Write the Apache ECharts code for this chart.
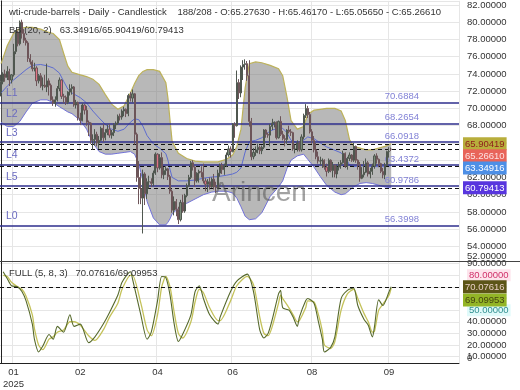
<!DOCTYPE html>
<html><head><meta charset="utf-8">
<script src="https://cdn.jsdelivr.net/npm/echarts@6/dist/echarts.min.js"></script>
<style>html,body{margin:0;padding:0;background:#fff}#c{width:520px;height:390px}</style>
</head><body><div id="c"></div>
<script>
// ---- DATA ----
// candles: [open, close, low, high]
const ohlc = [
[71.9,73.1,71.4,73.9],[73.1,74.0,72.8,74.2],[74.0,73.6,73.1,74.5],[73.6,74.3,73.3,74.9],[74.3,73.3,72.6,74.6],[73.3,73.9,72.9,74.0],[73.9,76.6,73.7,77.5],[76.6,78.8,76.3,79.1],[78.8,77.5,77.2,79.0],[77.5,80.0,77.3,80.2],
[80.0,78.7,78.1,80.3],[78.7,77.9,77.6,79.2],[77.9,77.6,77.3,78.2],[77.6,75.8,75.4,77.8],[75.8,75.4,75.1,76.3],[75.4,74.6,74.3,75.6],[74.6,74.7,74.3,75.3],[74.7,73.2,72.6,74.9],[73.2,73.8,72.9,74.0],[73.8,72.6,72.4,74.1],
[72.6,72.7,72.1,73.6],[72.7,72.5,72.4,73.9],[72.5,73.2,71.9,75.2],[73.2,72.7,71.5,73.5],[72.7,71.0,70.9,72.9],[71.0,70.6,70.3,71.4],[70.6,71.0,70.2,71.4],[71.0,72.3,70.8,72.6],[72.3,73.3,72.0,73.6],[73.3,71.4,71.1,73.4],
[71.4,71.3,70.6,71.7],[71.3,70.7,70.4,71.5],[70.7,71.9,70.5,72.0],[71.9,72.3,71.5,72.8],[72.3,72.5,71.6,72.8],[72.5,70.4,70.2,72.6],[70.4,70.7,70.0,71.0],[70.7,68.9,68.6,70.8],[68.9,68.6,68.1,69.5],[68.6,70.4,68.5,70.6],
[70.4,69.8,69.3,70.5],[69.8,68.4,68.0,70.3],[68.4,68.3,66.8,68.6],[68.3,66.3,65.9,68.4],[66.3,66.4,65.2,67.0],[66.4,67.0,65.7,67.6],[67.0,66.0,65.6,67.3],[66.0,66.3,65.3,66.8],[66.3,67.7,66.2,67.9],[67.7,66.6,66.1,68.2],
[66.6,67.2,66.3,67.6],[67.2,67.6,66.9,68.1],[67.6,66.9,66.6,68.2],[66.9,67.2,66.5,67.5],[67.2,68.1,66.8,68.3],[68.1,68.3,67.6,68.5],[68.3,69.1,68.1,69.3],[69.1,69.0,68.6,69.4],[69.0,69.7,68.7,69.9],[69.7,69.9,69.1,70.2],
[69.9,69.4,69.0,70.0],[69.4,71.5,69.1,71.7],[71.5,71.2,70.8,71.9],[71.2,71.7,70.7,72.2],[71.7,67.0,65.8,71.8],[67.0,62.0,61.5,67.2],[62.0,60.7,58.9,63.9],[60.7,59.6,58.9,62.5],[59.6,62.4,55.5,62.9],[62.4,60.1,58.8,62.6],
[60.1,61.5,59.5,61.9],[61.5,61.5,60.7,62.2],[61.5,61.3,60.9,61.9],[61.3,62.5,61.0,62.8],[62.5,64.7,62.3,64.9],[64.7,63.1,62.6,64.8],[63.1,64.3,62.9,64.7],[64.3,62.3,61.9,64.9],[62.3,62.8,61.8,63.2],[62.8,63.0,62.3,63.3],
[63.0,62.1,61.7,63.1],[62.1,60.4,60.1,62.3],[60.4,58.2,57.9,60.6],[58.2,59.2,57.6,59.8],[59.2,58.3,57.5,59.5],[58.3,57.1,56.6,58.6],[57.1,59.1,56.9,59.4],[59.1,58.1,57.9,60.0],[58.1,59.9,57.9,60.1],[59.9,61.0,59.7,61.3],
[61.0,62.0,60.9,62.3],[62.0,63.7,61.8,63.9],[63.7,63.2,62.8,64.0],[63.2,61.6,60.9,63.3],[61.6,62.5,61.4,62.6],[62.5,62.7,61.4,62.9],[62.7,62.6,62.0,63.3],[62.6,61.6,61.3,63.6],[61.6,61.2,60.4,61.9],[61.2,61.5,60.3,61.8],
[61.5,60.9,60.6,62.0],[60.9,61.8,60.8,62.0],[61.8,60.9,60.6,62.4],[60.9,60.8,60.2,61.5],[60.8,62.5,60.7,62.9],[62.5,63.4,62.1,63.6],[63.4,62.9,62.4,63.7],[62.9,63.4,62.3,63.6],[63.4,64.6,63.2,64.9],[64.6,65.3,64.4,65.7],
[65.3,65.0,64.3,65.6],[65.0,68.2,64.9,68.3],[68.2,68.0,66.6,68.4],[68.0,73.0,67.9,74.4],[73.0,71.8,71.1,73.4],[71.8,74.8,71.3,75.0],[74.8,75.1,73.3,75.6],[75.1,75.2,74.5,75.7],[75.2,73.8,73.2,75.5],[73.8,68.5,67.9,75.6],
[68.5,64.4,64.0,68.9],[64.4,64.9,64.1,65.4],[64.9,65.2,64.5,65.6],[65.2,65.5,64.8,65.9],[65.5,65.1,64.7,65.7],[65.1,65.5,64.7,65.7],[65.5,67.5,65.3,67.6],[67.5,67.0,66.6,67.6],[67.0,66.9,66.6,67.2],[66.9,67.9,65.6,68.2],
[67.9,68.3,67.5,68.8],[68.3,68.4,67.8,68.5],[68.4,66.6,66.4,68.5],[66.6,68.5,66.5,68.6],[68.5,67.0,66.8,69.1],[67.0,66.5,66.3,67.4],[66.5,66.4,65.6,66.9],[66.4,67.5,65.9,67.6],[67.5,67.3,67.1,68.0],[67.3,67.2,66.8,67.6],
[67.2,65.3,65.1,67.3],[65.3,65.3,64.8,65.8],[65.3,66.0,65.0,66.3],[66.0,65.2,65.0,66.2],[65.2,66.7,65.0,67.0],[66.7,69.2,66.4,69.4],[69.2,70.0,68.9,70.5],[70.0,69.3,68.9,70.3],[69.3,67.3,67.1,69.6],[67.3,66.3,65.9,67.6],
[66.3,65.2,64.9,66.8],[65.2,64.4,64.1,66.0],[64.4,63.9,63.6,65.0],[63.9,63.9,63.4,64.4],[63.9,64.0,63.1,64.2],[64.0,63.2,62.9,64.1],[63.2,62.7,62.1,63.6],[62.7,64.0,62.5,64.2],[64.0,62.8,62.6,64.1],[62.8,63.4,62.0,63.8],
[63.4,62.4,62.0,63.5],[62.4,63.2,61.9,63.5],[63.2,63.5,62.8,63.8],[63.5,63.7,63.0,64.0],[63.7,64.8,63.6,65.1],[64.8,63.3,63.1,64.9],[63.3,64.2,62.9,64.4],[64.2,64.6,63.9,64.9],[64.6,64.0,63.8,64.7],[64.0,65.6,63.8,66.0],
[65.6,64.0,63.7,65.7],[64.0,63.5,62.9,64.1],[63.5,61.9,61.5,63.8],[61.9,62.3,61.8,63.2],[62.3,62.6,62.0,63.9],[62.6,63.7,62.5,64.2],[63.7,62.4,62.1,63.9],[62.4,62.7,61.9,63.1],[62.7,63.3,62.3,63.6],[63.3,64.5,63.0,64.7],
[64.5,64.1,63.6,64.8],[64.1,63.6,63.2,64.2],[63.6,62.7,62.5,63.7],[62.7,62.3,61.9,63.1],[62.3,63.4,61.8,63.7],[63.4,65.0,63.3,65.1],[65.0,65.0,64.3,65.5],[65.2763,65.2661,65.0565,65.4617]
];
const slotCount = 220;

// Bollinger bands (20, 2), read at these candle indices
const bbIdx    = [0,3,6,9,12,15,19,22,25,28,30,32,34,38,41,44,47,50,53,56,59,62,64,66,68,70,73,76,79,80,81,82,85,89,93,97,101,104,108,111,113,115,117,119,122,125,129,133,135,137,139,142,145,147,150,153,156,160,163,165,167,169,172,175,178,181,184,187];
const bbUpper  = [75.2,77.3,78.7,79.3,79.4,79.4,79.2,78.9,78.7,78.0,76.4,74.9,74.2,73.9,73.7,73.4,72.8,71.6,70.5,69.9,70.3,71.8,72.9,73.8,74.3,74.5,74.5,74.3,73.0,71.2,68.6,66.2,64.8,64.2,63.9,63.8,63.8,63.8,64.1,64.6,65.6,67.6,72.4,75.2,75.4,75.3,75.0,74.6,73.8,71.4,68.6,67.6,67.9,69.3,69.8,69.9,70.0,70.0,69.7,68.6,66.4,65.6,65.4,65.2,65.2,65.4,65.6,65.90419];
const bbLower  = [68.4,67.9,67.9,68.5,69.6,70.6,71.0,71.0,70.7,70.2,69.9,69.6,69.4,68.6,67.6,66.0,65.0,64.7,64.7,64.8,64.9,65.0,64.7,63.6,61.6,59.2,57.3,56.5,56.5,56.8,57.2,57.8,58.4,59.0,59.5,60.0,60.3,60.4,60.4,60.2,59.6,58.6,57.5,57.1,57.2,57.9,59.8,60.9,61.6,63.0,64.0,64.5,64.7,64.1,63.2,62.1,61.1,60.3,60.0,60.1,60.5,60.9,61.3,61.4,61.3,61.1,60.9,60.79413];
const bbMiddle = [71.8,72.6,73.3,73.9,74.5,75.0,75.1,74.95,74.7,74.1,73.15,72.25,71.8,71.25,70.65,69.7,68.9,68.15,67.6,67.35,67.6,68.4,68.8,68.7,67.95,66.85,65.9,65.4,64.75,64.0,62.9,62.0,61.6,61.6,61.7,61.9,62.05,62.1,62.25,62.4,62.6,63.1,64.95,66.15,66.3,66.6,67.4,67.75,67.7,67.2,66.3,66.05,66.3,66.7,66.5,66.0,65.55,65.15,64.85,64.35,63.45,63.25,63.35,63.3,63.25,63.25,63.25,63.34916];

// Full stochastic (5, 8, 3)
const stIdx = [1,3,5,8,10,12,15,16,18,20,23,25,27,30,33,35,38,42,45,49,52,56,58,62,63,67,70,72,75,77,79,81,83,85,87,91,93,95,97,100,104,105,110,113,118,121,124,126,128,130,133,134,135,138,140,142,143,146,147,150,152,154,155,158,160,163,166,169,171,174,176,178,179,181,183,186,187];
const stK = [83,77,71,70,66,58,38,25,14,19,29,25,36,31,46,36,38,22,27,38,48,63,74,83,77,46,25,31,58,79,78,63,38,23,29,46,66,71,60,46,38,44,66,75,81,66,33,26,30,42,64,67,52,50,44,36,44,58,60,56,41,25,14,18,27,60,67,69,54,42,37,27,36,59,54,66,70.07616];
const stD = [80,79,74,70,68,62,46,34,20,16,25,27,31,33,40,40,37,28,24,33,44,56,68,80,80,56,33,28,46,70,79,70,48,30,26,40,57,68,65,52,41,41,58,71,79,72,44,30,28,36,56,63,60,52,46,40,41,52,58,57,47,32,20,17,23,50,64,68,60,47,40,31,32,50,55,63,69.09953];

// Levels
const levelValues = [70.6884, 68.2654, 66.0918, 63.4372, 60.9786, 56.3998];
const levelNames  = ['L1','L2','L3','L4','L5','L0'];

// Current values
const bbLast = {middle: 63.34916, upper: 65.90419, lower: 60.79413};
const lastClose = 65.26610;
const stLast = {k: 70.07616, d: 69.09953};

// X ticks
const xTickIndex  = [6, 38, 75, 111, 149, 186];
const xTickLabels = ['01\n2025', '02', '04', '06', '08', '09'];

const titleMain = 'wti-crude-barrels - Daily - Candlestick    188/208 - O:65.27630 - H:65.46170 - L:65.05650 - C:65.26610';
const titleBB = 'BB (20, 2)   63.34916/65.90419/60.79413';
const titleSt = 'FULL (5, 8, 3)   70.07616/69.09953';

// ---- CHART ----
const FONT = '"Liberation Sans", Arial, sans-serif';
const FS = 9.5;
const chart = echarts.init(document.getElementById('c'), null, {renderer: 'canvas'});
const cats = Array.from({length: slotCount}, (_, i) => String(i));
const tickMap = {};
xTickIndex.forEach((t, k) => tickMap[t] = xTickLabels[k]);
const isTick = (i) => tickMap.hasOwnProperty(i);

const mainMin = 52.307, mainMax = 82.48;
const stMin = 4.5, stMax = 92.3;
const gridCol = '#e6e6e6';
const CLEAR = 'rgba(0,0,0,0)';

function valBox(v, bg, fg, shift, dashed) {
  return {
    yAxis: v,
    lineStyle: dashed ? {type: [4, 3], color: '#111', width: 1.2} : {color: CLEAR, width: 0.1},
    label: {
      show: true, position: 'end', distance: 4,
      formatter: '{a|' + v.toFixed(5) + '}',
      padding: shift > 0 ? [shift * 2, 0, 0, 0] : 0,
      rich: {a: {backgroundColor: bg, color: fg, padding: [2, 2, 1, 2], fontSize: FS, fontFamily: FONT}}
    }
  };
}

const levelLines = [];
levelValues.forEach((v, k) => {
  levelLines.push({
    yAxis: v,
    lineStyle: {type: 'solid', color: '#2e2e8c', width: 1.5},
    label: {show: true, position: 'insideStartTop', formatter: levelNames[k], color: '#6a6ac0', fontSize: 10.5, fontFamily: FONT, distance: [6, 4]}
  });
  levelLines.push({
    yAxis: v,
    lineStyle: {color: CLEAR, width: 0.1},
    label: {show: true, position: 'insideEndTop', formatter: v.toFixed(4), color: '#8282d6', fontSize: FS, fontFamily: FONT, distance: [40, 1]}
  });
});

function yAxisBase(grid, min, max, split) {
  return {type: 'value', gridIndex: grid, position: 'right', min: min, max: max, splitNumber: split, axisTick: {show: false}};
}

const option = {
  animation: false,
  backgroundColor: '#fff',
  grid: [
    {left: 0, top: 0, width: 459, height: 261},
    {left: 0, top: 261, width: 459, height: 107}
  ],
  xAxis: [
    {type: 'category', gridIndex: 0, data: cats, boundaryGap: true,
     axisLine: {show: false}, axisTick: {show: false}, axisLabel: {show: false},
     splitLine: {show: true, interval: (i) => isTick(i), lineStyle: {color: gridCol}}},
    {type: 'value', gridIndex: 0, min: -0.5, max: slotCount - 0.5, show: false},
    {type: 'category', gridIndex: 1, data: cats, boundaryGap: true,
     axisLine: {show: true, lineStyle: {color: '#222'}}, axisTick: {show: false},
     axisLabel: {interval: (i) => isTick(i), formatter: (v, i) => tickMap[i] || '', fontSize: FS, fontFamily: FONT, color: '#333', margin: 3, lineHeight: 12},
     splitLine: {show: true, interval: (i) => isTick(i), lineStyle: {color: gridCol}}},
    {type: 'value', gridIndex: 1, min: -0.5, max: slotCount - 0.5, show: false}
  ],
  yAxis: [
    Object.assign(yAxisBase(0, mainMin, mainMax, 15), {
     axisLine: {show: true, lineStyle: {color: '#222'}},
     axisLabel: {fontSize: FS, fontFamily: FONT, color: '#333', margin: 8, showMinLabel: false, showMaxLabel: false,
       formatter: (v) => v.toFixed(5)},
     splitLine: {show: true, lineStyle: {color: gridCol}}}),
    Object.assign(yAxisBase(1, stMin, stMax, 9), {
     axisLine: {show: true, lineStyle: {color: '#222'}},
     axisLabel: {fontSize: FS, fontFamily: FONT, color: '#333', margin: 8, showMinLabel: false, showMaxLabel: false,
       formatter: (v) => v === 80 ? '{ob|80.00000}' : (v === 50 ? '{os|50.00000}' : v.toFixed(5)),
       rich: {
         ob: {color: '#d0306a', backgroundColor: '#fde4ec', padding: [1, 2], fontSize: FS, fontFamily: FONT},
         os: {color: '#2f8f8f', backgroundColor: '#e0fafa', padding: [1, 2], fontSize: FS, fontFamily: FONT}
       }},
     splitLine: {show: true, lineStyle: {color: gridCol}}}),
    // extra axes only carrying the clamped bottom labels
    Object.assign(yAxisBase(0, mainMin, mainMax, 15), {
     axisLine: {show: false}, splitLine: {show: false},
     axisLabel: {fontSize: FS, fontFamily: FONT, color: '#333', margin: 8, showMinLabel: true, showMaxLabel: false,
       verticalAlignMinLabel: 'bottom', formatter: (v) => v === mainMin ? (52).toFixed(5) : ''}}),
    Object.assign(yAxisBase(1, stMin, stMax, 9), {
     axisLine: {show: false}, splitLine: {show: false},
     axisLabel: {fontSize: FS, fontFamily: FONT, color: '#333', margin: 8, showMinLabel: true, showMaxLabel: false,
       verticalAlignMinLabel: 'bottom', formatter: (v) => v === stMin ? '0' : ''}})
  ],
  series: [
    {type: 'custom', name: 'bbBand', xAxisIndex: 1, yAxisIndex: 0, data: [[bbIdx[0], bbLower[0]]], z: 2, silent: true, clip: true,
     renderItem: (params, api) => {
       const up = bbIdx.map((x, k) => api.coord([x, bbUpper[k]]));
       const lo = bbIdx.map((x, k) => api.coord([x, bbLower[k]]));
       return {type: 'group', children: [
         {type: 'polygon', shape: {points: up.concat(lo.slice().reverse())}, style: {fill: 'rgba(118,118,118,0.52)', stroke: null}},
         {type: 'polyline', shape: {points: up}, style: {stroke: '#bdb25a', lineWidth: 1.2, fill: null}},
         {type: 'polyline', shape: {points: lo}, style: {stroke: '#7272d8', lineWidth: 1, fill: null}}
       ]};
     }},
    {type: 'line', name: 'bbMiddle', xAxisIndex: 1, yAxisIndex: 0, symbol: 'none',
     data: bbIdx.map((x, k) => [x, bbMiddle[k]]), lineStyle: {color: '#5d6cd0', width: 1}, z: 3, silent: true},
    {type: 'candlestick', xAxisIndex: 0, yAxisIndex: 0, data: ohlc, barWidth: 1.6, z: 5, silent: true,
     itemStyle: {color: '#7b8c7b', color0: '#e07585', borderColor: '#4f574f', borderColor0: '#6d5559', borderWidth: 1},
     markLine: {symbol: ['none', 'none'], silent: true, animation: false,
       data: levelLines.concat([
         valBox(bbLast.upper, '#b8ae3c', '#8e1b1b', 0, true),
         valBox(lastClose, '#e8645a', '#fde2e2', 6.6, true),
         valBox(bbLast.middle, '#4d8fe6', '#ffffff', 2.1, true),
         valBox(bbLast.lower, '#5836de', '#ffffff', 0, true)
       ])}},
    {type: 'line', name: 'stD', xAxisIndex: 3, yAxisIndex: 1, symbol: 'none', smooth: 0.25,
     data: stIdx.map((x, k) => [x, stD[k]]), lineStyle: {color: '#c4c25a', width: 1.3}, z: 3, silent: true,
     markLine: {symbol: ['none', 'none'], silent: true, animation: false,
       data: [valBox(stLast.d, '#93b526', '#454510', 12, false)]}},
    {type: 'line', name: 'stK', xAxisIndex: 3, yAxisIndex: 1, symbol: 'none', smooth: 0.25,
     data: stIdx.map((x, k) => [x, stK[k]]), lineStyle: {color: '#56692c', width: 1.1}, z: 4, silent: true,
     markLine: {symbol: ['none', 'none'], silent: true, animation: false,
       data: [valBox(stLast.k, '#5c5517', '#e9cfc6', 0, true)]}}
  ],
  graphic: [
    {type: 'line', shape: {x1: 0, y1: 261.5, x2: 520, y2: 261.5}, style: {stroke: '#444', lineWidth: 1}, z: 50, silent: true},
    {type: 'text', x: 212, y: 193, style: {text: 'Arincen', font: '28px ' + FONT, fill: 'rgba(85,85,85,0.55)', verticalAlign: 'middle'}, z: 40, silent: true},
    {type: 'text', x: 9, y: 12, style: {text: titleMain, font: FS + 'px ' + FONT, fill: '#333', verticalAlign: 'middle'}, z: 60, silent: true},
    {type: 'text', x: 9, y: 30, style: {text: titleBB, font: FS + 'px ' + FONT, fill: '#333', verticalAlign: 'middle'}, z: 60, silent: true},
    {type: 'text', x: 9, y: 273, style: {text: titleSt, font: FS + 'px ' + FONT, fill: '#333', verticalAlign: 'middle'}, z: 60, silent: true}
  ]
};
chart.setOption(option);
</script>
</body></html>
